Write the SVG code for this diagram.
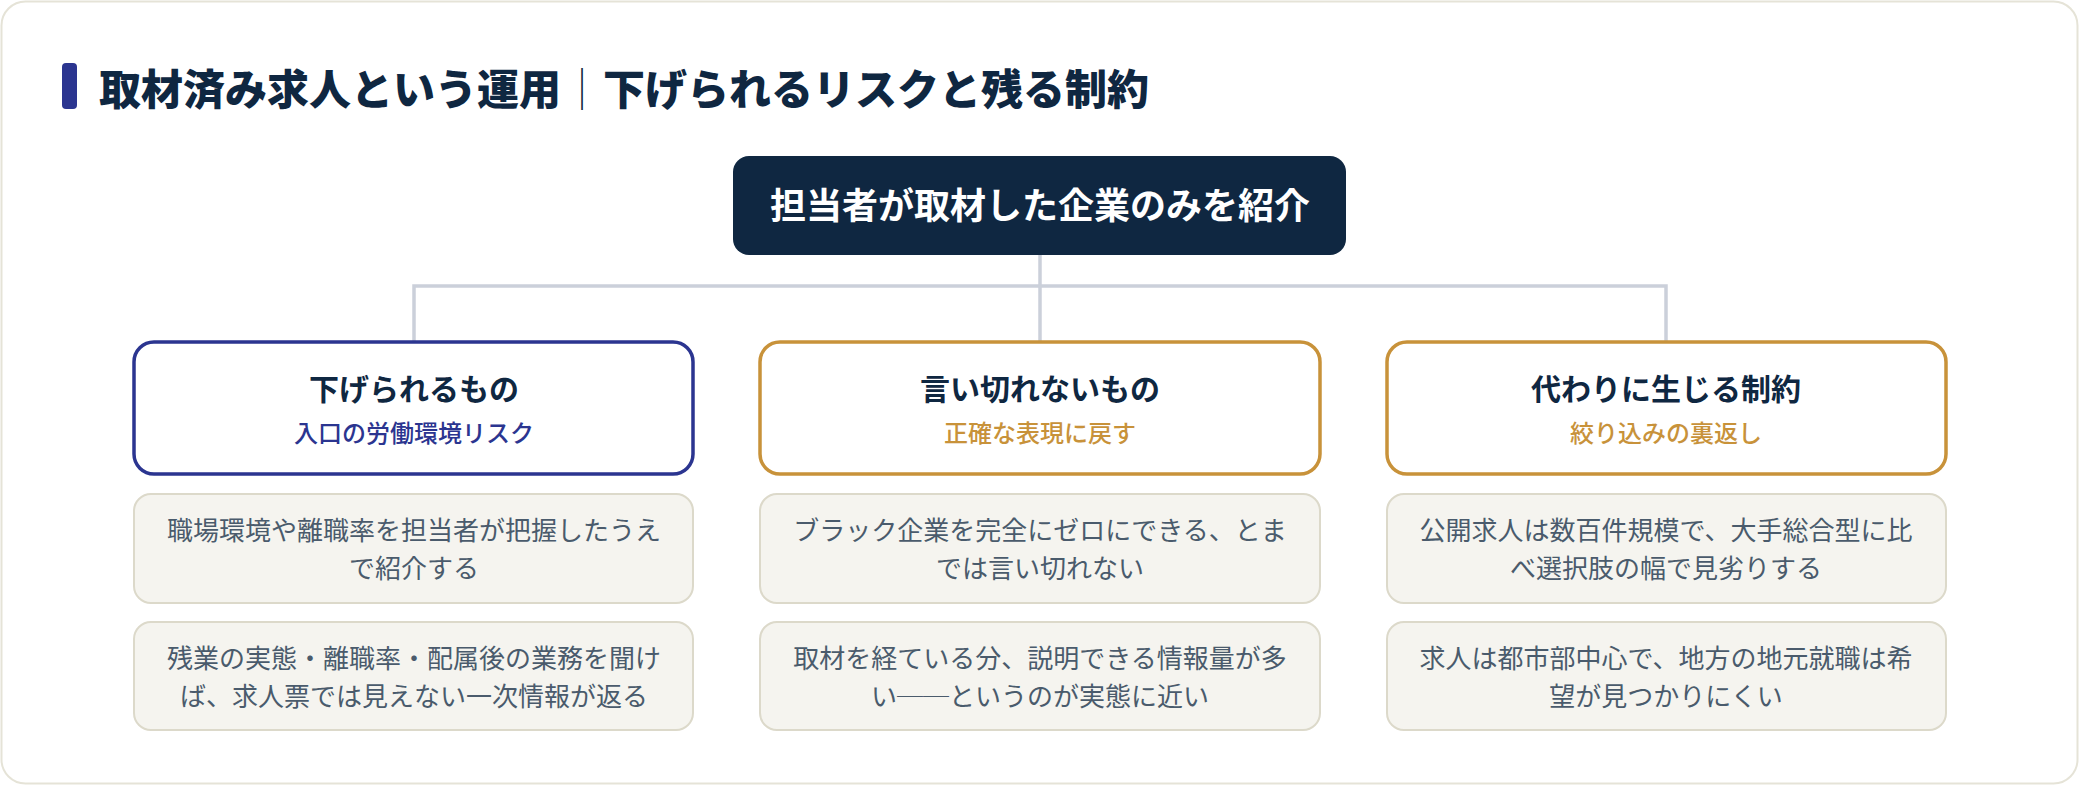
<svg xmlns="http://www.w3.org/2000/svg" width="2080" height="786" viewBox="0 0 2080 786">
<style>
.jp{font-family:"Noto Sans CJK JP","Noto Sans",sans-serif}
.title{font-size:42px;font-weight:900;fill:#0f2741}
.sep{font-size:42px;font-weight:200;fill:#0f2741}
.root{fill:#0f2741}
.rootT{font-size:36px;font-weight:700;fill:#ffffff}
.cat{fill:#ffffff;stroke-width:3.5}
.catN{stroke:#2b3590}
.catG{stroke:#c8923a}
.catT{font-size:30px;font-weight:700;fill:#0f2741}
.subN{font-size:24px;font-weight:500;fill:#2b3590}
.subG{font-size:24px;font-weight:500;fill:#c8923a}
.det{fill:#f5f4ef;stroke:#dcd9ca;stroke-width:2}
.detT{font-size:26px;font-weight:400;fill:#4a5b6c}
.conn{fill:none;stroke:#cbd0da;stroke-width:3.5}
</style>
<rect x="1.5" y="1.5" width="2076" height="782" rx="24" fill="#ffffff" stroke="#e5e3d7" stroke-width="2"/>
<g id="heading">
<rect x="62" y="63" width="15" height="46" rx="4" fill="#2b3590"/>
<text class="jp" x="99" y="105"><tspan class="title">取材済み求人という運用</tspan><tspan class="sep">｜</tspan><tspan class="title">下げられるリスクと残る制約</tspan></text>
</g>
<g id="connectors">
<path class="conn" d="M1040 255 V286 M414 341 V286 H1666 V341 M1040 286 V341"/>
</g>
<g id="root">
<rect class="root" x="733" y="156" width="613" height="99" rx="16"/>
<text class="jp rootT" x="1040" y="219" text-anchor="middle">担当者が取材した企業のみを紹介</text>
</g>
<g id="cat1">
<rect class="cat catN" x="134" y="342" width="559" height="132" rx="20"/>
<text class="jp catT" x="414" y="400" text-anchor="middle">下げられるもの</text>
<text class="jp subN" x="414" y="442" text-anchor="middle">入口の労働環境リスク</text>
</g>
<g id="cat2">
<rect class="cat catG" x="760" y="342" width="560" height="132" rx="20"/>
<text class="jp catT" x="1040" y="400" text-anchor="middle">言い切れないもの</text>
<text class="jp subG" x="1040" y="442" text-anchor="middle">正確な表現に戻す</text>
</g>
<g id="cat3">
<rect class="cat catG" x="1387" y="342" width="559" height="132" rx="20"/>
<text class="jp catT" x="1666" y="400" text-anchor="middle">代わりに生じる制約</text>
<text class="jp subG" x="1666" y="442" text-anchor="middle">絞り込みの裏返し</text>
</g>
<g id="d1a">
<rect class="det" x="134" y="494" width="559" height="109" rx="17"/>
<text class="jp detT" text-anchor="middle"><tspan x="414" y="540">職場環境や離職率を担当者が把握したうえ</tspan><tspan x="414" y="578">で紹介する</tspan></text>
</g>
<g id="d1b">
<rect class="det" x="134" y="622" width="559" height="108" rx="17"/>
<text class="jp detT" text-anchor="middle"><tspan x="414" y="668">残業の実態・離職率・配属後の業務を聞け</tspan><tspan x="414" y="706">ば、求人票では見えない一次情報が返る</tspan></text>
</g>
<g id="d2a">
<rect class="det" x="760" y="494" width="560" height="109" rx="17"/>
<text class="jp detT" text-anchor="middle"><tspan x="1040" y="540">ブラック企業を完全にゼロにできる、とま</tspan><tspan x="1040" y="578">では言い切れない</tspan></text>
</g>
<g id="d2b">
<rect class="det" x="760" y="622" width="560" height="108" rx="17"/>
<text class="jp detT" text-anchor="middle"><tspan x="1040" y="668">取材を経ている分、説明できる情報量が多</tspan><tspan x="1040" y="706">い──というのが実態に近い</tspan></text>
</g>
<g id="d3a">
<rect class="det" x="1387" y="494" width="559" height="109" rx="17"/>
<text class="jp detT" text-anchor="middle"><tspan x="1666" y="540">公開求人は数百件規模で、大手総合型に比</tspan><tspan x="1666" y="578">べ選択肢の幅で見劣りする</tspan></text>
</g>
<g id="d3b">
<rect class="det" x="1387" y="622" width="559" height="108" rx="17"/>
<text class="jp detT" text-anchor="middle"><tspan x="1666" y="668">求人は都市部中心で、地方の地元就職は希</tspan><tspan x="1666" y="706">望が見つかりにくい</tspan></text>
</g>
</svg>
